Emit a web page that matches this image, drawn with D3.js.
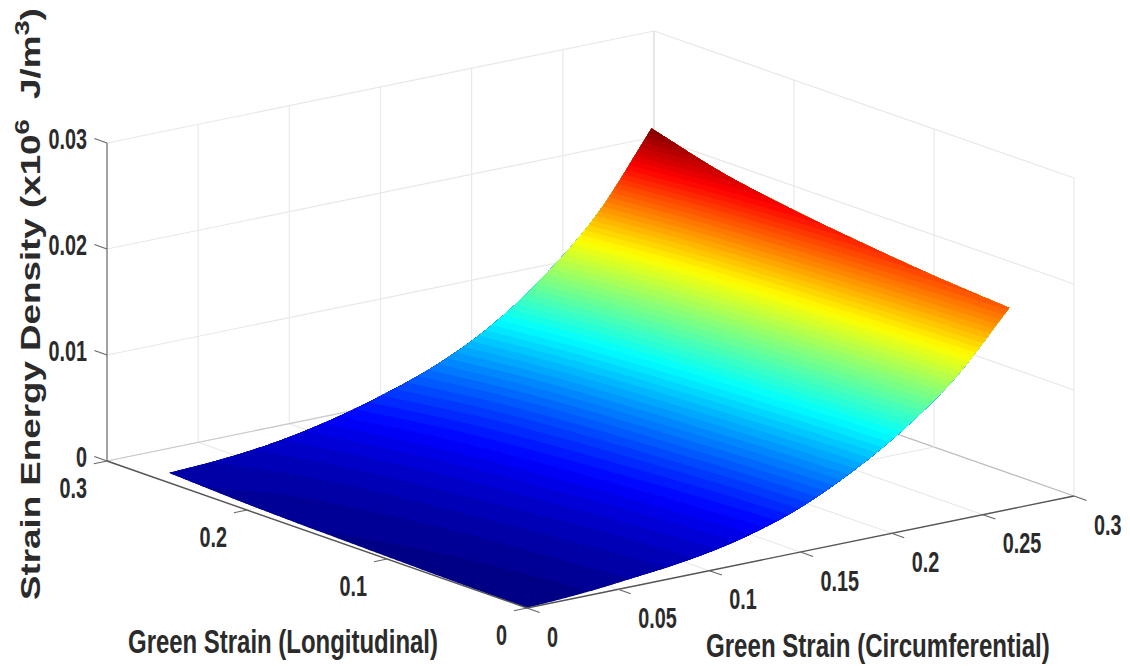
<!DOCTYPE html>
<html><head><meta charset="utf-8">
<style>html,body{margin:0;padding:0;background:#fff}svg{display:block}</style>
<script src="https://cdn.jsdelivr.net/npm/d3@7"></script>
</head><body><svg id="c" width="1130" height="666"></svg>
<script>
// ---- data ----
const circumferential = [0, .0294, .0588, .0882, .1176, .147, .1764, .2058, .2352, .2645];
const longitudinal = [0, .0511, .1022, .1533, .2044, .2555];
const energyRow0 = [0, .0003, .0008, .0014, .0024, .0040, .0064, .0095, .0135, .0190];
const energyRow1 = [.00009, .0004, .0009, .00154, .00258, .0042, .00662, .00978, .01387, .01951];
const energyRow2 = [.00023, .00052, .00104, .00174, .00283, .0045, .00693, .01017, .01439, .02022];
const energyRow3 = [.00039, .00068, .00121, .00197, .00314, .00482, .0073, .01065, .01502, .02109];
const energyRow4 = [.0006, .00089, .00144, .0023, .00355, .00528, .00781, .01129, .01587, .02226];
const energyRow5 = [.00094, .00122, .0018, .0028, .0042, .0060, .0086, .0123, .0172, .0241];
const energy = [energyRow0, energyRow1, energyRow2, energyRow3, energyRow4, energyRow5];
const cTicks = [0, .05, .1, .15, .2, .25, .3];
const cTickLabels = ["0", "0.05", "0.1", "0.15", "0.2", "0.25", "0.3"];
const lTicks = [0, .1, .2, .3];
const lTickLabels = ["0", "0.1", "0.2", "0.3"];
const zTicks = [0, .01, .02, .03];
const zTickLabels = ["0", "0.01", "0.02", "0.03"];
const cLabel = "Green Strain (Circumferential)";
const lLabel = "Green Strain (Longitudinal)";

// ---- projection built from linear scales ----
const cx = d3.scaleLinear([0, .3], [0, 547]), cy = d3.scaleLinear([0, .3], [0, -112]);
const lx = d3.scaleLinear([0, .3], [0, -420]), ly = d3.scaleLinear([0, .3], [0, -147]);
const zy = d3.scaleLinear([0, .03], [0, -318]);
const O = [527, 608];
const P = (c, l, z) => [O[0] + cx(c) + lx(l), O[1] + cy(c) + ly(l) + zy(z)];

const svg = d3.select("#c");
const FONT = "'Liberation Sans', Arial, sans-serif";
const line = d3.line();

// ---- walls, floor and grid ----
const gridG = svg.append("g").attr("fill", "none");
function seg(a, b, col, w) {
  gridG.append("path").attr("d", line([a, b])).attr("stroke", col).attr("stroke-width", w);
}
const GRID = "#e8e8e8";
zTicks.forEach(z => {
  seg(P(0, .3, z), P(.3, .3, z), GRID, 1.2);
  seg(P(.3, .3, z), P(.3, 0, z), GRID, 1.2);
});
cTicks.forEach(c => {
  seg(P(c, .3, 0), P(c, .3, .03), c === .3 ? "#d4d4d4" : GRID, 1.1);
  seg(P(c, 0, 0), P(c, .3, 0), c === .3 ? "#bdbdbd" : GRID, 1.1);
});
lTicks.forEach(l => {
  seg(P(.3, l, 0), P(.3, l, .03), GRID, 1.1);
  seg(P(0, l, 0), P(.3, l, 0), l === .3 ? "#c8c8c8" : GRID, 1.1);
});

// ---- surface: energy grid resampled for drawing, jet colour bands ----
function cr(p0, p1, p2, p3, t) {
  return .5 * (2 * p1 + (p2 - p0) * t + (2 * p0 - 5 * p1 + 4 * p2 - p3) * t * t + (3 * p1 - p0 - 3 * p2 + p3) * t * t * t);
}
const cIdx = d3.scaleLinear(circumferential, d3.range(circumferential.length)).clamp(true);
const lIdx = d3.scaleLinear(longitudinal, d3.range(longitudinal.length)).clamp(true);
function sampleRow(row, ci) {
  const n = row.length, i = Math.min(Math.floor(ci), n - 2), t = ci - i;
  const g = k => k < 0 ? 2 * row[0] - row[1] : k >= n ? 2 * row[n - 1] - row[n - 2] : row[k];
  return cr(g(i - 1), g(i), g(i + 1), g(i + 2), t);
}
function surf(c, l) {
  const ci = cIdx(c), li = lIdx(l), n = energy.length;
  const i = Math.min(Math.floor(li), n - 2), t = li - i;
  const g = k => sampleRow(energy[Math.max(0, Math.min(n - 1, k))], ci);
  const a = i - 1 < 0 ? 2 * g(0) - g(1) : g(i - 1);
  const d = i + 2 >= n ? 2 * g(n - 1) - g(n - 2) : g(i + 2);
  return Math.max(0, cr(a, g(i), g(i + 1), d, t));
}
const cMax = d3.max(circumferential), lMax = d3.max(longitudinal), zMax = d3.max(energy.flat());
const NX = 220, NY = 160;
const vals = new Float64Array(NX * NY);
for (let j = 0; j < NY; j++) for (let i = 0; i < NX; i++)
  vals[j * NX + i] = surf(cMax * i / (NX - 1), lMax * j / (NY - 1));

function jet(t) {
  const f = v => Math.round(255 * Math.max(0, Math.min(1, v)));
  return `rgb(${f(1.5 - Math.abs(4 * t - 3))},${f(1.5 - Math.abs(4 * t - 2))},${f(1.5 - Math.abs(4 * t - 1))})`;
}
const LEVELS = 64;
const thresholds = d3.range(LEVELS).map(i => i === 0 ? -1 : zMax * i / LEVELS);
const contours = d3.contours().size([NX, NY]).thresholds(thresholds)(vals);
const toCL = v => [
  cMax * Math.max(0, Math.min(1, (v[0] - .5) / (NX - 1))),
  lMax * Math.max(0, Math.min(1, (v[1] - .5) / (NY - 1)))
];
const surfG = svg.append("g");
contours.forEach((m, k) => {
  const d = m.coordinates.map(poly => poly.map(ring =>
    line(ring.map(v => { const q = toCL(v); return P(q[0], q[1], surf(q[0], q[1])); })) + "Z"
  ).join("")).join("");
  surfG.append("path").attr("d", d).attr("fill-rule", "evenodd").attr("fill", jet((k + .5) / LEVELS));
});

// ---- axes ----
const axG = svg.append("g").attr("fill", "none");
function axisLine(a, b, col, w) {
  axG.append("path").attr("d", line([a, b])).attr("stroke", col).attr("stroke-width", w);
}
axisLine(P(0, .3, 0), P(0, .3, .03), "#777", 1.3);
axisLine(P(0, 0, 0), P(0, .3, 0), "#555", 1.4);
axisLine(P(0, 0, 0), P(.3, 0, 0), "#555", 1.4);
zTicks.forEach(z => axisLine(P(0, .3, z), P(0, .309, z), "#666", 1.1));
lTicks.forEach(l => axisLine(P(0, l, 0), P(-.0072, l, 0), "#666", 1.1));
cTicks.forEach(c => axisLine(P(c, 0, 0), P(c, -.009, 0), "#666", 1.1));

// ---- text: condensed bold labels ----
const txtG = svg.append("g").attr("font-family", FONT).attr("font-weight", 700).attr("fill", "#2b2b2b");
function label(s, x, y, anchor, size, sx) {
  txtG.append("text").attr("transform", `translate(${x},${y}) scale(${sx},1)`)
    .attr("text-anchor", anchor).attr("dominant-baseline", "central")
    .attr("font-size", size).text(s);
}
const TS = 30, SX = .66;
zTicks.forEach((z, i) => { const p = P(0, .3, z); label(zTickLabels[i], p[0] - 20, p[1] - 5, "end", TS, SX); });
lTicks.forEach((l, i) => { const p = P(0, l, 0); label(lTickLabels[i], p[0] - 20, p[1] + 26, "end", TS, SX); });
cTicks.forEach((c, i) => { const p = P(c, 0, 0); label(cTickLabels[i], p[0] + 20, p[1] + 28, "start", TS, SX); });

function fitted(s, x, y, width, size) {
  const t = txtG.append("text").attr("font-size", size).attr("dominant-baseline", "central").text(s);
  const w = t.node().getComputedTextLength();
  t.attr("transform", `translate(${x},${y}) scale(${width / w},1)`);
}
fitted(lLabel, 128, 642, 310, 33);
fitted(cLabel, 706, 646, 344, 33);

// rotated z title with superscripts
const zt = txtG.append("text").attr("font-size", 27).attr("fill", "#2b2b2b");
zt.append("tspan").text("Strain Energy Density (x10");
zt.append("tspan").attr("dy", -11).attr("font-size", 20).text("6");
zt.append("tspan").attr("dy", 11).text("\u00a0\u00a0J/m");
zt.append("tspan").attr("dy", -11).attr("font-size", 20).text("3");
zt.append("tspan").attr("dy", 11).text(")");
const zw = zt.node().getComputedTextLength();
zt.attr("transform", `translate(40,600) rotate(-90) scale(${592 / zw},1)`);
</script></body></html>
